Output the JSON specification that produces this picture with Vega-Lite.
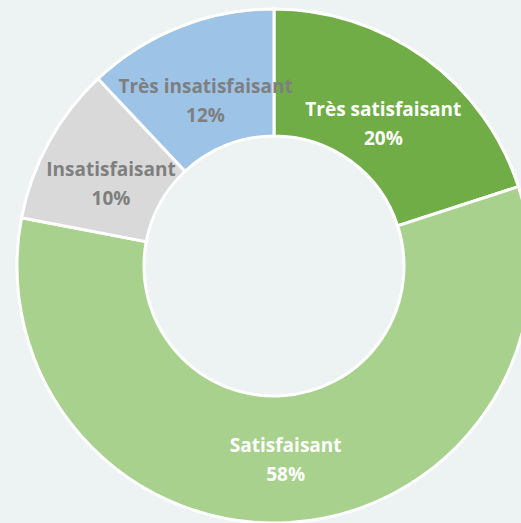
{
  "$schema": "https://vega.github.io/schema/vega-lite/v6.json",
  "width": 494,
  "height": 514,
  "autosize": {"type": "none"},
  "padding": {"left": 27, "top": 9, "right": 0, "bottom": 0},
  "background": "#EDF2F2",
  "config": {"view": {"stroke": null}},
  "data": {
    "values": [
      {"category": "Très satisfaisant", "value": 20, "o": 1},
      {"category": "Satisfaisant", "value": 58, "o": 2},
      {"category": "Insatisfaisant", "value": 10, "o": 3},
      {"category": "Très insatisfaisant", "value": 12, "o": 4}
    ]
  },
  "transform": [
    {"calculate": "[datum.category, datum.value + '%']", "as": "label"}
  ],
  "encoding": {
    "theta": {"field": "value", "type": "quantitative", "stack": true},
    "order": {"field": "o", "type": "quantitative"}
  },
  "layer": [
    {
      "mark": {"type": "arc", "innerRadius": 130, "outerRadius": 257, "stroke": "white", "strokeWidth": 3},
      "encoding": {
        "color": {
          "field": "category",
          "type": "nominal",
          "scale": {
            "domain": ["Très satisfaisant", "Satisfaisant", "Insatisfaisant", "Très insatisfaisant"],
            "range": ["#70AD47", "#A9D18E", "#D9D9D9", "#9DC3E6"]
          },
          "legend": null
        }
      }
    },
    {
      "mark": {"type": "text", "radius": 186, "dy": -6, "font": "Open Sans", "fontWeight": "bold", "fontSize": 19, "lineHeight": 29, "baseline": "middle", "align": "center"},
      "encoding": {
        "text": {"field": "label"},
        "color": {
          "field": "category",
          "type": "nominal",
          "scale": {
            "domain": ["Très satisfaisant", "Satisfaisant", "Insatisfaisant", "Très insatisfaisant"],
            "range": ["#FFFFFF", "#FFFFFF", "#7F7F7F", "#7F7F7F"]
          },
          "legend": null
        }
      }
    }
  ],
  "resolve": {"scale": {"color": "independent"}}
}
